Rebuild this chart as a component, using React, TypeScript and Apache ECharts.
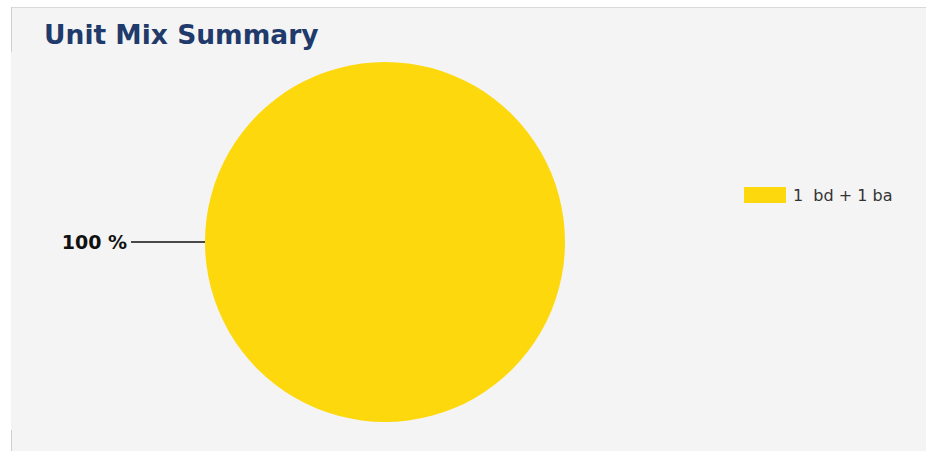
import React, { useEffect, useRef } from "react";
import * as echarts from "echarts";

const categories = ["1  bd + 1 ba"];
const values = [100];
const colors = ["#FDD80C"];
const titleText = "Unit Mix Summary";

export default function App() {
  const ref = useRef<HTMLDivElement>(null);
  useEffect(() => {
    document.body.style.margin = "0";
    const chart = echarts.init(ref.current!, undefined, { renderer: "svg" });
    chart.setOption({
      animation: false,
      backgroundColor: "transparent",
      title: {
        text: titleText,
        left: 44,
        top: 21,
        padding: 0,
        textStyle: { fontFamily: "DejaVu Sans", fontWeight: "bold", fontSize: 26.5, color: "#1F3A6B" },
      },
      legend: {
        orient: "vertical",
        left: 744,
        top: 187,
        padding: 0,
        itemWidth: 42,
        itemHeight: 16,
        itemGap: 8,
        icon: "rect",
        data: categories,
        textStyle: { fontFamily: "DejaVu Sans", fontSize: 16, color: "#333333", padding: [0, 0, 0, 2] },
      },
      graphic: [
        { type: "rect", shape: { x: 11, y: 7, width: 915, height: 444 }, style: { fill: "#F4F4F4" }, silent: true, z: -10 },
        { type: "line", shape: { x1: 11, y1: 7.5, x2: 926, y2: 7.5 }, style: { stroke: "#D9D9D9", lineWidth: 1 }, z: -9 },
        { type: "line", shape: { x1: 11.5, y1: 7, x2: 11.5, y2: 52 }, style: { stroke: "#D0D0D0", lineWidth: 1 }, z: -9 },
        { type: "line", shape: { x1: 11.5, y1: 430, x2: 11.5, y2: 451 }, style: { stroke: "#D0D0D0", lineWidth: 1 }, z: -9 },
      ],
      series: [
        {
          type: "pie",
          center: [385, 242],
          radius: [0, 180],
          startAngle: 0,
          clockwise: true,
          data: categories.map((c, i) => ({ name: c, value: values[i], itemStyle: { color: colors[i] } })),
          label: {
            show: true,
            position: "outside",
            formatter: "{d} %",
            fontFamily: "DejaVu Sans",
            fontWeight: "bold",
            fontSize: 19,
            color: "#111111",
            distanceToLabelLine: 4,
          },
          labelLine: {
            show: true,
            length: 34,
            length2: 40,
            lineStyle: { color: "#111111", width: 1.5 },
          },
        },
      ],
    });
    return () => chart.dispose();
  }, []);
  return (
    <div style={{ position: "fixed", left: 0, top: 0, width: 926, height: 451, background: "#ffffff" }}>
      <div ref={ref} style={{ width: 926, height: 451 }} />
    </div>
  );
}
